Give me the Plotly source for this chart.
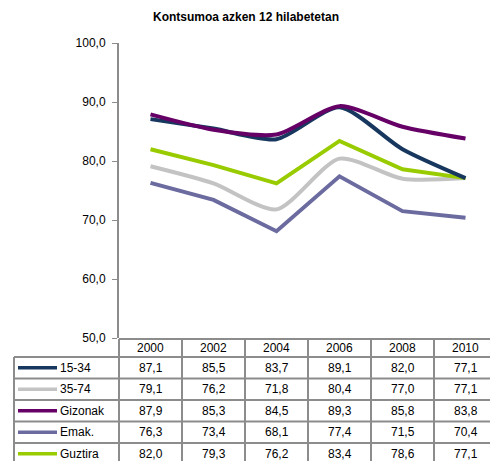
import plotly.graph_objects as go

# data
years = ["2000", "2002", "2004", "2006", "2008", "2010"]
series_names = ["15-34", "35-74", "Gizonak", "Emak.", "Guztira"]
v_15_34 = [87.1, 85.5, 83.7, 89.1, 82.0, 77.1]
v_35_74 = [79.1, 76.2, 71.8, 80.4, 77.0, 77.1]
v_gizonak = [87.9, 85.3, 84.5, 89.3, 85.8, 83.8]
v_emak = [76.3, 73.4, 68.1, 77.4, 71.5, 70.4]
v_guztira = [82.0, 79.3, 76.2, 83.4, 78.6, 77.1]
y_ticks = [50, 60, 70, 80, 90, 100]

series_values = [v_15_34, v_35_74, v_gizonak, v_emak, v_guztira]
colors = ["#17375E", "#C3C3C3", "#660066", "#6B6BA0", "#99CC00"]
# smoothed lines in the reference; Emak. and Guztira are straight
shapes_kind = ["spline", "spline", "spline", "linear", "linear"]

FONT = "Arial, Liberation Sans, sans-serif"
OFF = 8  # page body margin
W, H = 498 - OFF, 461 - OFF
L, R = 119 - OFF, 1
T = 43 - OFF
B = H - (338 - OFF)
plot_w = W - L - R
plot_h = H - T - B


def px_x(px):
    # reference pixel -> paper x
    return (px - OFF - L) / plot_w


def px_y(py):
    # reference pixel -> paper y
    return (H - B - (py - OFF)) / plot_h


fig = go.Figure()

# draw order: back to front as in the reference
order = [3, 1, 4, 0, 2]
for i in order:
    fig.add_trace(go.Scatter(x=years,
                             y=series_values[i],
                             name=series_names[i],
                             mode="lines",
                             line={"color": colors[i],
                                   "width": 4,
                                   "shape": shapes_kind[i],
                                   "smoothing": 0.7},
                             showlegend=False))

# table below the plot
border = {"color": "#8C8C8C", "width": 2}
n_cols = len(years)
head_top = px_y(339)
head_bot = px_y(357)
row_h = 21.5 / plot_h
left_x = px_x(14)
bottom = head_bot - row_h * len(series_names)
cell_font = {"family": FONT, "size": 12, "color": "#000000"}

shapes = []
shapes.append(dict(type="line", xref="paper", yref="paper",
                   x0=0, x1=1, y0=head_top, y1=head_top, line=border))
for r in range(len(series_names) + 1):
    yy = head_bot - r * row_h
    shapes.append(dict(type="line", xref="paper", yref="paper",
                       x0=left_x, x1=1, y0=yy, y1=yy, line=border))
for c in range(n_cols + 1):
    xx = c / n_cols
    shapes.append(dict(type="line", xref="paper", yref="paper",
                       x0=xx, x1=xx, y0=head_top, y1=bottom, line=border))
shapes.append(dict(type="line", xref="paper", yref="paper",
                   x0=left_x, x1=left_x, y0=head_bot, y1=bottom, line=border))

annotations = []
for c, yr in enumerate(years):
    annotations.append(dict(xref="paper", yref="paper",
                            x=(c + 0.5) / n_cols, y=(head_top + head_bot) / 2,
                            xanchor="center", yanchor="middle",
                            text=yr, showarrow=False, font=cell_font))

for r, name in enumerate(series_names):
    yc = head_bot - (r + 0.5) * row_h
    # legend swatch
    shapes.append(dict(type="line", xref="paper", yref="paper",
                       x0=px_x(18), x1=px_x(57), y0=yc, y1=yc,
                       line={"color": colors[r], "width": 3.5}))
    annotations.append(dict(xref="paper", yref="paper",
                            x=px_x(58), y=yc,
                            xanchor="left", yanchor="middle",
                            text=name, showarrow=False, font=cell_font))
    for c, val in enumerate(series_values[r]):
        annotations.append(dict(xref="paper", yref="paper",
                                x=(c + 0.5) / n_cols, y=yc,
                                xanchor="center", yanchor="middle",
                                text=f"{val:.1f}".replace(".", ","),
                                showarrow=False, font=cell_font))

fig.update_layout(width=W,
                  height=H,
                  margin={"l": L, "r": R, "t": T, "b": B, "pad": 0},
                  paper_bgcolor="white",
                  plot_bgcolor="white",
                  title={"text": "<b>Kontsumoa azken 12 hilabetetan</b>",
                         "x": (246 - OFF) / W, "xanchor": "center",
                         "y": 1 - (17 - OFF) / H, "yanchor": "middle",
                         "font": {"family": FONT, "size": 12,
                                  "color": "#000000"}},
                  shapes=shapes,
                  annotations=annotations)

fig.update_xaxes(type="category",
                 range=[-0.5, 5.5],
                 showticklabels=False,
                 showgrid=False,
                 zeroline=False,
                 showline=False,
                 ticks="")

fig.update_yaxes(range=[50, 100],
                 tickvals=y_ticks,
                 ticktext=[f"{v:.1f}".replace(".", ",") for v in y_ticks],
                 showgrid=False,
                 zeroline=False,
                 showline=True,
                 linecolor="#8C8C8C",
                 linewidth=2,
                 ticks="outside",
                 ticklen=5,
                 tickwidth=1,
                 tickcolor="#8C8C8C",
                 ticklabelstandoff=4,
                 tickfont=cell_font)

fig.write_html("out.html")
